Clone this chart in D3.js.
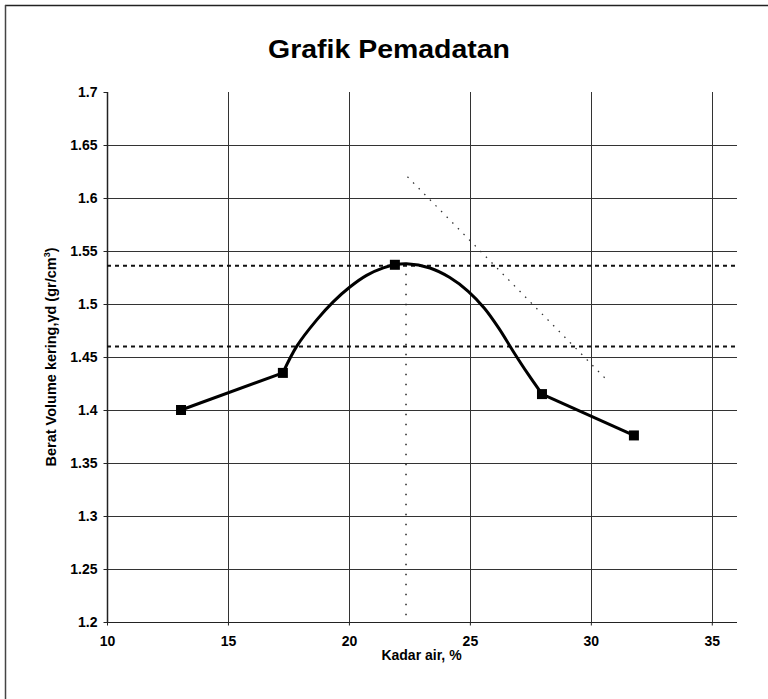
<!DOCTYPE html>
<html>
<head>
<meta charset="utf-8">
<script src="https://cdn.jsdelivr.net/npm/d3@7"></script>
<style>
	body { margin: 0; background: #fff; }
	svg { display: block; font-family: "Liberation Sans", Arial, sans-serif; }
	.grid line { stroke: #333; stroke-width: 1; }
	.tick-label { font-size: 14px; font-weight: bold; fill: #000; }
</style>
</head>
<body>
<svg></svg>
<script>
// ticks
const xTicks = [10, 15, 20, 25, 30, 35]
const yTicks = [1.2, 1.25, 1.3, 1.35, 1.4, 1.45, 1.5, 1.55, 1.6, 1.65, 1.7]

// measured points (kadar air %, berat volume kering)
const kadarAir = [13.06, 17.27, 21.9, 27.98, 31.78]
const beratKering = [1.400, 1.435, 1.537, 1.415, 1.376]

// smooth curve drawn between the 2nd and 4th point
const curveX = [17.27, 17.84, 18.67, 19.35, 20.04, 20.73, 21.42, 21.9, 22.38, 23.35, 24.17, 24.93, 25.6, 26.2, 26.8, 27.4, 27.98]
const curveY = [1.435, 1.460, 1.485, 1.502, 1.516, 1.527, 1.534, 1.537, 1.538, 1.534, 1.525, 1.512, 1.496, 1.477, 1.455, 1.434, 1.415]

// reference lines
const gdMax = 1.536
const gd95 = 1.46
const wOpt = 22.36
const zavX = [22.42, 30.59]
const zavY = [1.620, 1.430]

const width = 768, height = 699
const svg = d3.select('svg').attr('width', width).attr('height', height)

const x = d3.scaleLinear().domain([10, 36]).range([107, 736])
const y = d3.scaleLinear().domain([1.2, 1.7]).range([622, 92])

// outer frame (scan shows only top and left edges)
svg.append('line').attr('x1', 5).attr('x2', width).attr('y1', 5.5).attr('y2', 5.5)
	.attr('stroke', '#222').attr('stroke-width', 1.5)
svg.append('line').attr('x1', 5.5).attr('x2', 5.5).attr('y1', 5).attr('y2', height)
	.attr('stroke', '#444').attr('stroke-width', 1.5)

// title
svg.append('text')
	.attr('x', 389).attr('y', 58)
	.attr('text-anchor', 'middle')
	.attr('font-size', 25).attr('font-weight', 'bold')
	.attr('textLength', 242).attr('lengthAdjust', 'spacingAndGlyphs')
	.text('Grafik Pemadatan')

// grid
const grid = svg.append('g').attr('class', 'grid')
grid.selectAll('.hg')
	.data(yTicks.filter(d => d > 1.2 && d < 1.7)).enter()
	.append('line')
	.attr('x1', x(10)).attr('x2', x(36) + 1)
	.attr('y1', d => Math.round(y(d)) + 0.5).attr('y2', d => Math.round(y(d)) + 0.5)
grid.selectAll('.vg')
	.data(xTicks.filter(d => d > 10)).enter()
	.append('line')
	.attr('x1', d => Math.round(x(d)) + 0.5).attr('x2', d => Math.round(x(d)) + 0.5)
	.attr('y1', y(1.7)).attr('y2', y(1.2))

// axes
const xAxis = svg.append('g')
	.attr('transform', `translate(0,${Math.round(y(1.2)) + 0.5})`)
	.call(d3.axisBottom(x).tickValues(xTicks).tickSize(3).tickPadding(11).tickFormat(d3.format('d')))
xAxis.select('.domain').attr('d', `M${x(10)},0H${x(36) + 1}`).attr('stroke', '#222')
xAxis.selectAll('.tick line').attr('stroke', '#222')
xAxis.selectAll('.tick text').attr('class', 'tick-label').attr('font-family', null).attr('font-size', null)

const yAxis = svg.append('g')
	.attr('transform', `translate(${Math.round(x(10)) + 0.5},0)`)
	.call(d3.axisLeft(y).tickValues(yTicks).tickSize(4).tickPadding(6).tickFormat(d => String(+d.toFixed(2))))
yAxis.select('.domain').attr('d', `M0,${y(1.7)}V${y(1.2)}`).attr('stroke', '#222').attr('stroke-width', 1.5)
yAxis.selectAll('.tick line').attr('stroke', '#222')
yAxis.selectAll('.tick text').attr('class', 'tick-label').attr('font-family', null).attr('font-size', null)

// axis titles
svg.append('text')
	.attr('x', x(23)).attr('y', 660)
	.attr('text-anchor', 'middle')
	.attr('font-size', 14).attr('font-weight', 'bold')
	.text('Kadar air, %')

const yt = svg.append('text')
	.attr('transform', `translate(56,${(y(1.2) + y(1.7)) / 2}) rotate(-90)`)
	.attr('text-anchor', 'middle')
	.attr('font-size', 14.5).attr('font-weight', 'bold')
yt.append('tspan').text('Berat Volume kering,γd (gr/cm')
yt.append('tspan').attr('font-size', 9).attr('dy', -6).text('3')
yt.append('tspan').attr('dy', 6).text(')')

// zero-air-voids style dotted diagonal
svg.append('line')
	.attr('x1', x(zavX[0])).attr('y1', y(zavY[0]))
	.attr('x2', x(zavX[1])).attr('y2', y(zavY[1]))
	.attr('stroke', '#333').attr('stroke-width', 1.3)
	.attr('stroke-dasharray', '1.5,6.5')

// optimum water content (vertical dotted)
svg.append('line')
	.attr('x1', x(wOpt)).attr('x2', x(wOpt))
	.attr('y1', y(gdMax) + 8).attr('y2', y(1.2))
	.attr('stroke', '#222').attr('stroke-width', 1.5)
	.attr('stroke-dasharray', '1.5,8.5')

// max dry density and 95% lines (dashed)
svg.selectAll('.hline')
	.data([gdMax, gd95]).enter()
	.append('line')
	.attr('x1', x(10)).attr('x2', x(36) + 3)
	.attr('y1', d => y(d)).attr('y2', d => y(d))
	.attr('stroke', '#111').attr('stroke-width', 2)
	.attr('stroke-dasharray', '4,4')

// series
const pts = kadarAir.map((d, i) => ({x: d, y: beratKering[i]}))
const curvePts = curveX.map((d, i) => ({x: d, y: curveY[i]}))

const line = d3.line().x(d => x(d.x)).y(d => y(d.y))
const smooth = d3.line().curve(d3.curveCatmullRom).x(d => x(d.x)).y(d => y(d.y))

const sg = svg.append('g')
	.attr('fill', 'none').attr('stroke', '#000').attr('stroke-width', 3)
	.attr('stroke-linejoin', 'round')
sg.append('path').attr('d', line([pts[0], pts[1]]))
sg.append('path').attr('d', smooth(curvePts))
sg.append('path').attr('d', line([pts[3], pts[4]]))

svg.selectAll('.marker')
	.data(pts).enter()
	.append('rect')
	.attr('x', d => x(d.x) - 5).attr('y', d => y(d.y) - 5)
	.attr('width', 10).attr('height', 10)
	.attr('fill', '#000')
</script>
</body>
</html>
